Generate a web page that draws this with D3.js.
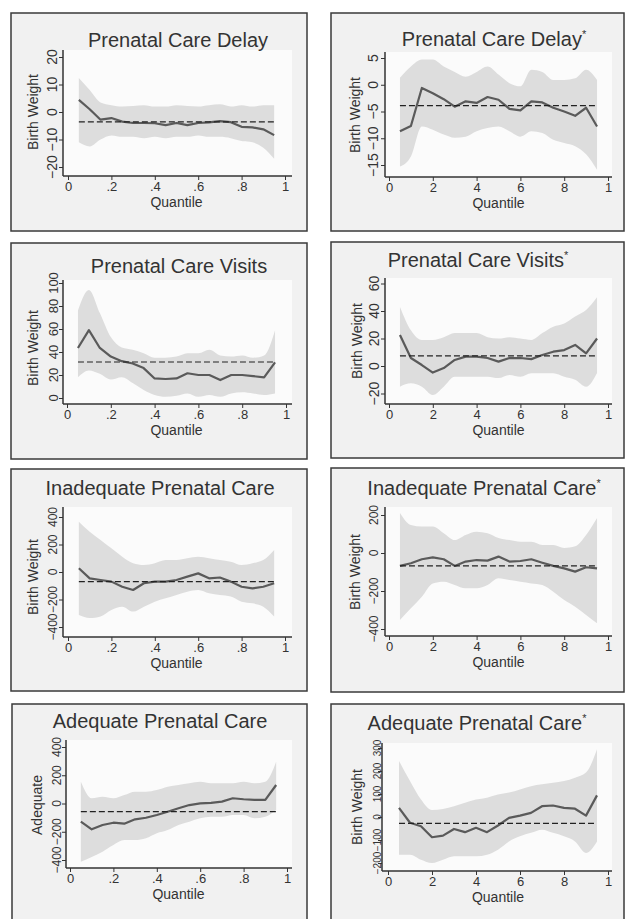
<!DOCTYPE html>
<html><head><meta charset="utf-8">
<script src="https://cdn.jsdelivr.net/npm/d3@7/dist/d3.min.js"></script>
<style>
html,body{margin:0;padding:0;background:#fff;}
svg{display:block;font-family:"Liberation Sans",Arial,Helvetica,sans-serif;}
</style></head>
<body>
<svg id="chart" width="625" height="919"></svg>
<script>
// ---------------- DATA ----------------
const quantiles = [0.05,0.10,0.15,0.20,0.25,0.30,0.35,0.40,0.45,0.50,0.55,0.60,0.65,0.70,0.75,0.80,0.85,0.90,0.95];

// Prenatal Care Delay
const delayEst = [4.4,1.0,-2.8,-2.2,-3.5,-4.0,-4.0,-4.1,-4.8,-4.0,-4.8,-4.0,-3.8,-3.3,-3.7,-5.4,-5.6,-6.3,-8.4];
const delayHi  = [12.4,8.0,3.5,2.5,2.0,2.2,2.5,2.0,2.0,2.5,2.2,2.0,2.5,2.8,2.0,2.5,2.0,2.5,2.5];
const delayLo  = [-11,-12.5,-10,-8.5,-9,-9,-9.5,-9,-9.5,-9,-9,-8.5,-9,-9,-9.5,-10.5,-11,-13,-17];
// Prenatal Care Delay*
const delayAdjEst = [-8.7,-7.7,-0.6,-1.6,-2.7,-4.1,-3.1,-3.4,-2.3,-2.8,-4.5,-4.8,-3.1,-3.3,-4.3,-5.0,-5.8,-4.3,-7.8];
const delayAdjHi  = [1.3,3.4,4.7,4.7,3.4,2.4,1.5,2.4,3.4,1.9,0.3,-0.3,2.8,2.4,0.9,0.9,1.2,2.8,0.9];
const delayAdjLo  = [-15.3,-13.4,-7.8,-8.4,-9.3,-9.9,-9.7,-8.7,-8.1,-7.8,-8.7,-9.7,-8.7,-9.0,-10.3,-10.9,-11.5,-13,-15.9];
// Prenatal Care Visits
const visitsEst = [43.5,59,43.5,36,32,30,26,17,16.5,17,21.5,20,20,15.6,20,20,19,18,31];
const visitsHi  = [76,94,74,53,44,42,39,35,35,36,39,39,42,37,36,37,35,37,59];
const visitsLo  = [18,24,21,16,18,13,7,2.6,1,2,4,1,2.6,1,4,5,4,2.6,4];
// Prenatal Care Visits*
const visitsAdjEst = [22.5,5.8,0.7,-4.8,-1.5,4.4,6.8,6.8,5.8,3.2,5.8,5.8,5,8,10.4,11.6,15.3,9.2,20];
const visitsAdjHi  = [43,26,19,19,21,24,24,24,21,20,21,20,19,24,28.6,31,36,40.7,50];
const visitsAdjLo  = [-15,-12.6,-15,-21,-15,-7.8,-7.8,-7.8,-7.8,-8.8,-6.5,-7.8,-5.3,-5.3,-5.3,-7.8,-10,-15,-5];
// Inadequate Prenatal Care
const inadEst = [27,-46,-58,-70,-107,-131,-82,-70,-70,-58,-34,-10,-46,-40,-70,-107,-119,-107,-82];
const inadHi  = [366,293,233,172,111,64,51,64,87,87,100,111,100,87,75,51,64,87,160];
const inadLo  = [-313,-335,-323,-276,-252,-288,-252,-216,-191,-167,-143,-131,-155,-167,-179,-216,-228,-252,-323];
// Inadequate Prenatal Care*
const inadAdjEst = [-68,-54,-33,-23,-33,-68,-45,-37,-40,-19,-45,-42,-33,-51,-68,-81,-98,-75,-81];
const inadAdjHi  = [210,147,139,139,104,68,95,112,104,79,68,59,59,42,42,26,35,95,184];
const inadAdjLo  = [-353,-291,-230,-160,-151,-168,-186,-186,-168,-133,-142,-151,-160,-168,-204,-248,-283,-326,-370];
// Adequate Prenatal Care
const adeqEst = [-129,-183,-152,-136,-143,-112,-101,-81,-58,-34,-11,1,5,13,37,30,25,25,131];
const adeqHi  = [154,37,48,37,60,84,84,96,119,131,143,154,143,143,143,154,143,154,295];
const adeqLo  = [-413,-378,-341,-294,-259,-259,-246,-211,-188,-152,-129,-105,-94,-94,-81,-81,-105,-94,-46];
// Adequate Prenatal Care*
const adeqAdjEst = [40,-25,-40,-88,-81,-52,-66,-47,-66,-37,-4,6,18,47,50,40,36,6,94];
const adeqAdjHi  = [244,156,76,30,35,47,62,76,84,98,106,120,134,142,149,156,171,193,295];
const adeqAdjLo  = [-164,-164,-186,-200,-186,-171,-171,-171,-164,-142,-106,-84,-69,-55,-69,-84,-106,-156,-106];

// Reference (dashed) estimates
const refValues = [-3.6,-3.9,31.3,7.3,-70,-68,-58,-28];

const titles = ["Prenatal Care Delay","Prenatal Care Delay","Prenatal Care Visits","Prenatal Care Visits",
                "Inadequate Prenatal Care","Inadequate Prenatal Care","Adequate Prenatal Care","Adequate Prenatal Care"];
const starred = [false,true,false,true,false,true,false,true];
const yTitles = ["Birth Weight","Birth Weight","Birth Weight","Birth Weight","Birth Weight","Birth Weight","Adequate","Birth Weight"];
const yTicks = [
  [-20,-10,0,10,20],
  [-15,-10,-5,0,5],
  [0,20,40,60,80,100],
  [-20,0,20,40,60],
  [-400,-200,0,200,400],
  [-400,-200,0,200],
  [-400,-200,0,200,400],
  [-200,-100,0,100,200,300]
];
const xTickValues = [0,0.2,0.4,0.6,0.8,1];
const xTickLabelsLeft  = ["0",".2",".4",".6",".8","1"];
const xTickLabelsRight = ["0","2","4","6","8","1"];
const xTitle = "Quantile";

const seriesEst = [delayEst,delayAdjEst,visitsEst,visitsAdjEst,inadEst,inadAdjEst,adeqEst,adeqAdjEst];
const seriesHi  = [delayHi,delayAdjHi,visitsHi,visitsAdjHi,inadHi,inadAdjHi,adeqHi,adeqAdjHi];
const seriesLo  = [delayLo,delayAdjLo,visitsLo,visitsAdjLo,inadLo,inadAdjLo,adeqLo,adeqAdjLo];

// ---------------- LAYOUT ----------------
const layout = [
 {f:[11,13,296,218],  ax:63, ay:176, axEnd:292, top:50,  xr:[68,285],  yr:[167,57],   tX:178, tY:47,  ytX:33,  ytY:112, tkX:52,  tkFont:14},
 {f:[331,13,293,218], ax:385,ay:177, axEnd:612, top:52,  xr:[389,608], yr:[165,58],   tX:494, tY:46,  ytX:355, ytY:115, tkX:373, tkFont:14},
 {f:[11,243,296,216], ax:63, ay:404, axEnd:292, top:280, xr:[67,286],  yr:[398,283],  tX:179, tY:273, ytX:33,  ytY:348, tkX:53,  tkFont:13},
 {f:[331,242,293,216],ax:385,ay:404, axEnd:612, top:278, xr:[389,608], yr:[393.5,283.5],tX:478,tY:267,ytX:357, ytY:341, tkX:374, tkFont:14},
 {f:[11,469,296,222], ax:63, ay:637, axEnd:292, top:507, xr:[68,285],  yr:[627,517],  tX:160, tY:495, ytX:33,  ytY:577, tkX:53,  tkFont:12},
 {f:[331,468,293,224],ax:385,ay:636, axEnd:612, top:507, xr:[389,608], yr:[629,515],  tX:484, tY:495, ytX:355, ytY:572, tkX:374, tkFont:12},
 {f:[12,704,295,216], ax:66, ay:868, axEnd:292, top:740, xr:[70,287],  yr:[860,747],  tX:160, tY:728, ytX:37,  ytY:805, tkX:57,  tkFont:12},
 {f:[331,704,293,216],ax:382,ay:871, axEnd:612, top:743, xr:[388,608], yr:[863,748],  tX:477, tY:730, ytX:357, ytY:807, tkX:377, tkFont:10}
];

const svg = d3.select("#chart");
const C = {frame:"#3a3a3a", outer:"#f1f1f1", inner:"#fbfbfb", band:"#dddddd", line:"#5a5a5a", dash:"#222", text:"#333", axis:"#333"};

layout.forEach((L,i) => {
  const g = svg.append("g");
  const [fx,fy,fw,fh] = L.f;
  g.append("rect").attr("x",fx).attr("y",fy).attr("width",fw).attr("height",fh)
    .attr("fill",C.outer).attr("stroke",C.frame).attr("stroke-width",1.5);
  g.append("rect").attr("x",L.ax).attr("y",L.top).attr("width",L.axEnd-L.ax).attr("height",L.ay-L.top)
    .attr("fill",C.inner);

  const yd = yTicks[i];
  const x = d3.scaleLinear().domain([0,1]).range(L.xr);
  const y = d3.scaleLinear().domain([yd[0], yd[yd.length-1]]).range(L.yr);

  const pts = quantiles.map((q,k)=>({q, est:seriesEst[i][k], lo:seriesLo[i][k], hi:seriesHi[i][k]}));

  g.append("path").datum(pts)
    .attr("d", d3.area().x(d=>x(d.q)).y0(d=>y(d.lo)).y1(d=>y(d.hi)).curve(d3.curveMonotoneX))
    .attr("fill",C.band);

  g.append("path").datum(pts)
    .attr("d", d3.line().x(d=>x(d.q)).y(d=>y(d.est)))
    .attr("fill","none").attr("stroke",C.line).attr("stroke-width",2.2).attr("stroke-linejoin","round");

  g.append("line")
    .attr("x1",x(quantiles[0])).attr("x2",x(quantiles[quantiles.length-1]))
    .attr("y1",y(refValues[i])).attr("y2",y(refValues[i]))
    .attr("stroke",C.dash).attr("stroke-width",1.2).attr("stroke-dasharray","6,3");

  // axes
  const yAxis = d3.axisLeft(y).tickValues(yd).tickSize(4).tickFormat("");
  const ga = g.append("g").attr("transform",`translate(${L.ax},0)`).call(yAxis);
  ga.select(".domain").attr("d",`M0,${L.top}V${L.ay}`).attr("stroke",C.axis).attr("stroke-width",1.5);
  ga.selectAll(".tick line").attr("stroke",C.axis);

  const labs = i%2===0 ? xTickLabelsLeft : xTickLabelsRight;
  const xAxis = d3.axisBottom(x).tickValues(xTickValues).tickSize(4).tickFormat((d,k)=>labs[k]);
  const gx = g.append("g").attr("transform",`translate(0,${L.ay})`).call(xAxis);
  gx.select(".domain").attr("d",`M${L.ax},0H${L.axEnd}`).attr("stroke",C.axis).attr("stroke-width",1.5);
  gx.selectAll(".tick line").attr("stroke",C.axis);
  gx.selectAll(".tick text").attr("dy",null)
    .attr("font-size",13).attr("fill",C.text)
    .attr("font-family","Liberation Sans, Arial, sans-serif")
    .attr("y", 15);

  // rotated y tick labels
  yd.forEach(v => {
    g.append("text")
      .attr("transform",`translate(${L.tkX},${y(v)}) rotate(-90)`)
      .attr("text-anchor","middle").attr("dy","0.35em")
      .attr("font-size",L.tkFont).attr("fill",C.text)
      .text(v<0 ? "\u2212"+Math.abs(v) : String(v));
  });

  // y title
  g.append("text")
    .attr("transform",`translate(${L.ytX},${L.ytY}) rotate(-90)`)
    .attr("text-anchor","middle").attr("dy","0.35em")
    .attr("font-size",14).attr("fill",C.text).text(yTitles[i]);

  // x title
  g.append("text").attr("x",(L.xr[0]+L.xr[1])/2).attr("y",L.ay + 31)
    .attr("text-anchor","middle").attr("font-size",14).attr("fill",C.text).text(xTitle);

  // title
  const t = g.append("text").attr("x",L.tX).attr("y",L.tY)
    .attr("text-anchor","middle").attr("font-size",20).attr("fill",C.text);
  t.append("tspan").text(titles[i]);
  if (starred[i]) t.append("tspan").attr("font-size",11).attr("dy",-8).text("*");
});
</script>
</body></html>
